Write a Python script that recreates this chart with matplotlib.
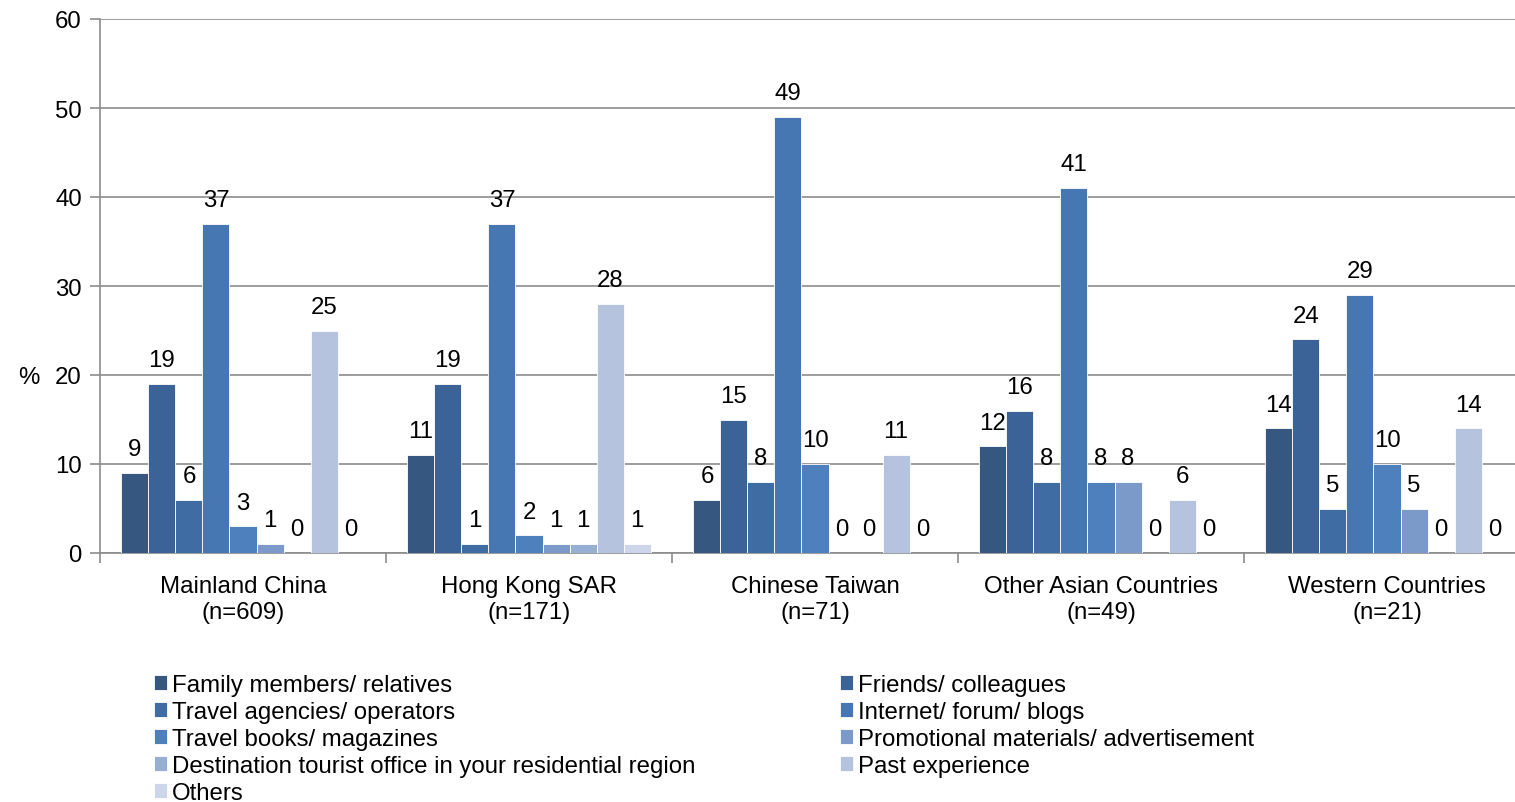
import matplotlib
matplotlib.use("Agg")
import matplotlib.pyplot as plt
import numpy as np

plt.rcParams['font.family'] = ['Liberation Sans', 'DejaVu Sans']

regions = ["Mainland China\n(n=609)", "Hong Kong SAR\n(n=171)", "Chinese Taiwan\n(n=71)",
           "Other Asian Countries\n(n=49)", "Western Countries\n(n=21)"]

sources = ["Family members/ relatives", "Friends/ colleagues", "Travel agencies/ operators",
           "Internet/ forum/ blogs", "Travel books/ magazines",
           "Promotional materials/ advertisement",
           "Destination tourist office in your residential region",
           "Past experience", "Others"]

family = [9, 11, 6, 12, 14]
friends = [19, 19, 15, 16, 24]
agencies = [6, 1, 8, 8, 5]
internet = [37, 37, 49, 41, 29]
books = [3, 2, 10, 8, 10]
promo = [1, 1, 0, 8, 5]
tourist_office = [0, 1, 0, 0, 0]
past = [25, 28, 11, 6, 14]
others = [0, 1, 0, 0, 0]

series = [family, friends, agencies, internet, books, promo, tourist_office, past, others]
colors = ["#36577F", "#3B6397", "#3F6CA3", "#4677B2", "#4E80BE",
          "#7B9ACA", "#97AED5", "#B5C3DF", "#CCD5E9"]

fig = plt.figure(figsize=(15.15, 8.03), dpi=100)
ax = fig.add_axes([100 / 1515, 1 - 554 / 803, 1 - 100 / 1515, (554 - 20) / 803])

x = np.arange(len(regions))
n = len(series)
w = 0.85 / n
fs = 17.3
bars = []
for i, (vals, c) in enumerate(zip(series, colors)):
    pos = x - 0.425 + w * (i + 0.5)
    b = ax.bar(pos, vals, width=w, color=c, edgecolor="white", linewidth=0.6, zorder=3)
    bars.append(b)
    for xp, v in zip(pos, vals):
        ax.annotate(str(v), (xp, v), xytext=(0, 17), textcoords="offset points",
                    ha="center", va="center", fontsize=fs, color="black")

ax.set_yticks(range(0, 61, 10))
ax.set_xticks(x)
ax.set_xticklabels(regions, fontsize=fs, linespacing=1.26)
ax.set_xticks(np.arange(len(regions) + 1) - 0.5, minor=True)
ax.set_ylim(0, 60)
ax.set_xlim(-0.5, -0.5 + (1515 - 100) / 286)

ax.yaxis.grid(True, color="#8C8C8C", linewidth=1.2, zorder=0)
ax.set_axisbelow(True)
ax.tick_params(axis="x", which="major", length=0, pad=15.5)
ax.tick_params(axis="x", which="minor", length=7, color="#8C8C8C", width=1.2)
ax.tick_params(axis="y", length=7, color="#8C8C8C", width=1.2, labelsize=fs, pad=6)

for s in ["top", "right"]:
    ax.spines[s].set_visible(False)
for s in ["left", "bottom"]:
    ax.spines[s].set_color("#8C8C8C")
    ax.spines[s].set_linewidth(1.2)

ax.set_ylabel("%", rotation=0, fontsize=fs, va="center")
ax.yaxis.set_label_coords(-0.05, 0.33)

order = [0, 2, 4, 6, 8, 1, 3, 5, 7]
fig.legend([bars[i] for i in order], [sources[i] for i in order],
           loc="upper left", bbox_to_anchor=(154 / 1515, 1 - 675 / 803),
           ncol=2, frameon=False, fontsize=fs, handlelength=0.55, handleheight=0.55,
           handletextpad=0.2, labelspacing=0.21, columnspacing=6.03, borderaxespad=0,
           borderpad=0)

fig.savefig("out.png", dpi=100)
